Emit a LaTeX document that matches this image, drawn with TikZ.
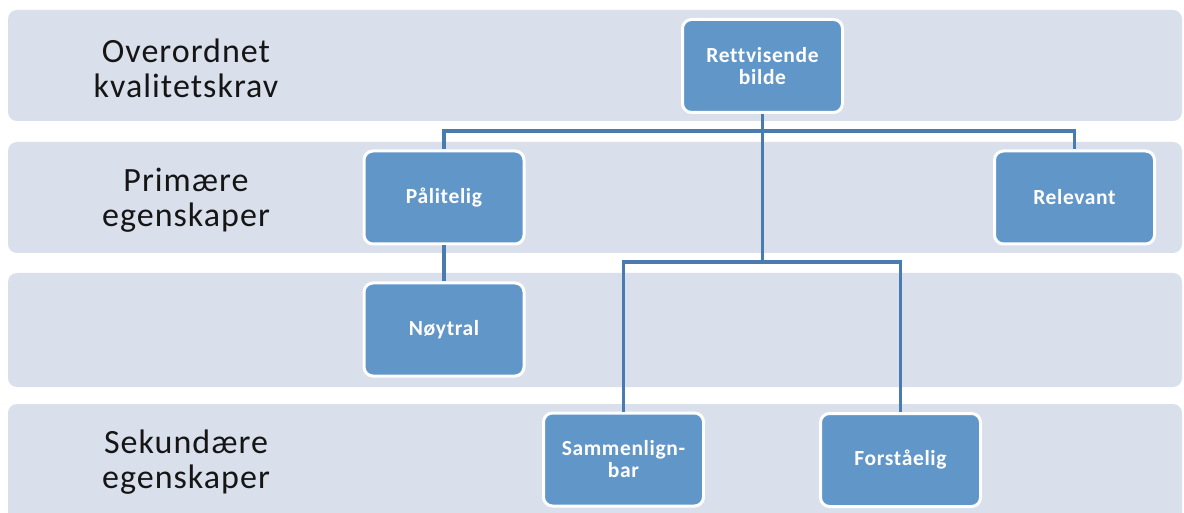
\documentclass[tikz,border=0pt]{standalone}
\usepackage{fontspec}
\setmainfont{Carlito}
\newfontfamily\labfont[LetterSpace=3,Ligatures=NoCommon]{Carlito}
\newfontfamily\boxfont[LetterSpace=3,Ligatures=NoCommon]{Carlito}
\definecolor{bandc}{HTML}{D9DFEB}
\definecolor{nodec}{HTML}{6196C9}
\definecolor{linec}{HTML}{4A7BAE}
\definecolor{labc}{HTML}{151515}
\begin{document}
\begin{tikzpicture}[x=1pt,y=-1pt,
  band/.style={fill=bandc,rounded corners=9pt},
  lab/.style={text=labc,align=center,font=\labfont\fontsize{34}{35}\selectfont},
  box/.style={draw=white,line width=3pt,fill=nodec,rounded corners=9pt,text=white,
    minimum width=160pt,minimum height=93pt,align=center,inner sep=2pt,
    font=\boxfont\fontsize{21.5}{22}\selectfont\bfseries},
  conn/.style={draw=linec,line width=3.5pt}]
\useasboundingbox (0,0) rectangle (1184,513);
\clip (0,0) rectangle (1184,513);
\fill[white] (0,0) rectangle (1184,513);
\fill[band] (8,10) rectangle (1182,121);
\fill[band] (8,142) rectangle (1182,253);
\fill[band] (8,273) rectangle (1182,387);
\fill[band] (8,404) rectangle (1182,530);
\node[lab] (l1) at (186,68) {Overordnet\\kvalitetskrav};
\node[lab] (l2) at (186,200) {Primære\\egenskaper};
\node[lab] (l4) at (186,462) {Sekundære\\egenskaper};
\node[box] (rb) at (762.5,66) {Rettvisende\\bilde};
\node[box] (pal) at (444,197.5) {Pålitelig};
\node[box] (rel) at (1074.5,197.5) {Relevant};
\node[box] (noy) at (444,329.5) {Nøytral};
\node[box] (sam) at (623.5,459.5) {Sammenlign-\\bar};
\node[box] (for) at (900.5,460) {Forståelig};
\coordinate (j1) at (762.5,131);
\coordinate (j2) at (762.5,262);
\draw[conn] (rb.south) -- (j2);
\draw[conn] (pal.north) |- (j1) -| (rel.north);
\draw[conn] (sam.north) |- (j2) -| (for.north);
\draw[conn] (pal.south) -- (noy.north);
\end{tikzpicture}
\end{document}
